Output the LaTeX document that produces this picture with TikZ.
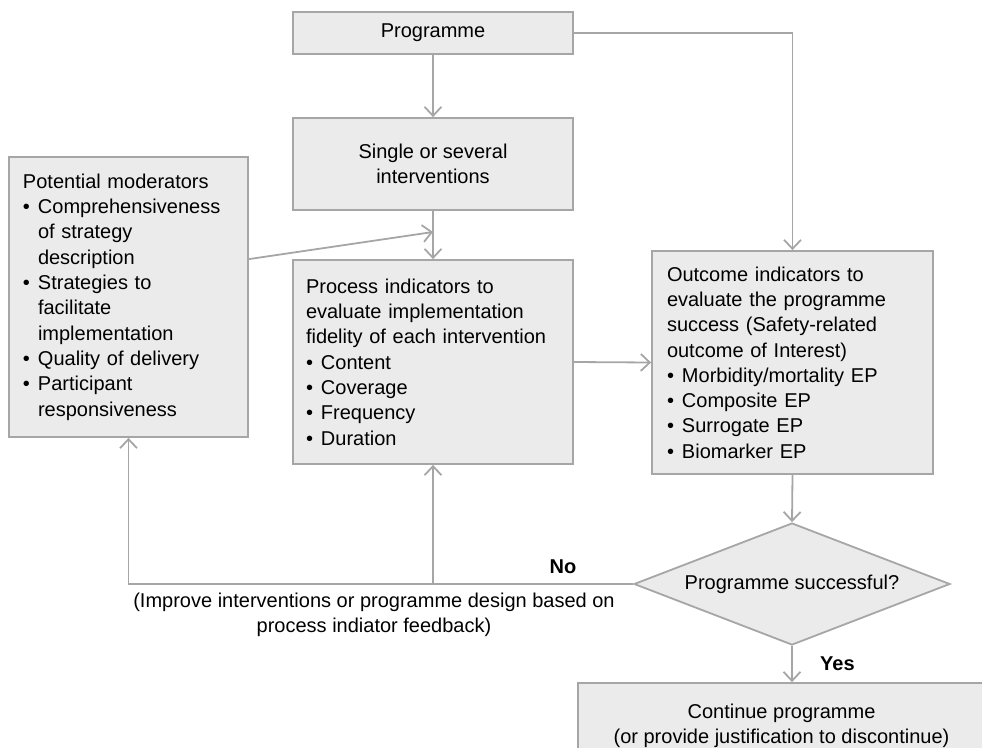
\documentclass[tikz,border=0pt]{standalone}
\usepackage{fontspec}
\setmainfont{Liberation Sans}
\usepackage{tikz}
\usetikzlibrary{shapes,arrows,arrows.meta}
\usetikzlibrary{positioning}
\usepackage{xcolor}

\definecolor{boxgray}{HTML}{EBEBEB}
\definecolor{linegray}{HTML}{A6A6A6}
\newcommand{\bul}{\makebox[15pt][l]{\textbullet}}
\newcommand{\ind}{\hspace*{15pt}}

\begin{document}
\begin{tikzpicture}[x=1pt,y=-1pt,>={Straight Barb[length=9pt,width=17pt]},
  every node/.style={font=\fontsize{20}{25.3}\selectfont},
  box/.style={draw=linegray,fill=boxgray,line width=1.8pt,inner sep=0pt},
  lbox/.style={box,align=left},
  link/.style={draw=linegray,line width=1.8pt,->}]

  \useasboundingbox (0,0) rectangle (982,747);
  \clip (0,0) rectangle (982,747);

  % programme and interventions
  \node[box,minimum width=280pt,minimum height=42pt] (prog) at (433,33) {Programme};
  \node[box,minimum width=280pt,minimum height=92pt,align=center] (single) at (433,164)
    {Single or several\\interventions};

  % moderators
  \node[lbox,inner xsep=14pt,text width=211pt,minimum height=280pt] (mods) at (128.5,297)
    {Potential moderators\\ \bul Comprehensiveness\\ \ind of strategy\\ \ind description\\
     \bul Strategies to\\ \ind facilitate\\ \ind implementation\\ \bul Quality of delivery\\
     \bul Participant\\ \ind responsiveness};

  % process indicators
  \node[lbox,inner xsep=13pt,text width=254pt,minimum height=204pt] (proc) at (433,362)
    {Process indicators to\\evaluate implementation\\fidelity of each intervention\\
     \bul Content\\ \bul Coverage\\ \bul Frequency\\ \bul Duration};

  % outcome indicators
  \node[lbox,inner xsep=15pt,text width=251pt,minimum height=223pt] (outc) at (792.5,362.5)
    {Outcome indicators to\\evaluate the programme\\success (Safety-related\\outcome of Interest)\\
     \bul Morbidity/mortality EP\\ \bul Composite EP\\ \bul Surrogate EP\\ \bul Biomarker EP};

  % decision
  \node[box,diamond,aspect=2.6,minimum width=316pt,minimum height=122pt] (succ) at (792,584)
    {Programme successful?};
  \node[box,minimum width=407pt,minimum height=85pt,align=center] (cont) at (781.5,725.5)
    {Continue programme\\(or provide justification to discontinue)};
  \node[align=center] (note) at (374,615)
    {(Improve interventions or programme design based on\\process indiator feedback)};

  % links
  \coordinate (modtip) at (433,232);
  \coordinate (turn) at (mods.south |- succ.west);
  \coordinate (split) at (proc.south |- succ.west);

  \draw[link] (prog) -- (single);
  \draw[link] (single) -- (proc);
  \draw[link] (mods.east |- proc.north) -- (modtip);
  \draw[link] (prog.east) -- (prog.east -| outc.north) -- (outc.north);
  \draw[link] (proc.east) -- (outc.west);
  \draw[link] (outc.south) -- (succ.north);
  \draw[link] (succ.west) -- (split) node[pos=0.35,above=6pt] (nolab) {\textbf{No}}
    -- (turn) -- (mods.south);
  \draw[link] (split) -- (proc.south);
  \draw[link] (succ.south) -- (succ.south |- cont.north)
    node[midway,right=24pt] (yeslab) {\textbf{Yes}};

\end{tikzpicture}
\end{document}
